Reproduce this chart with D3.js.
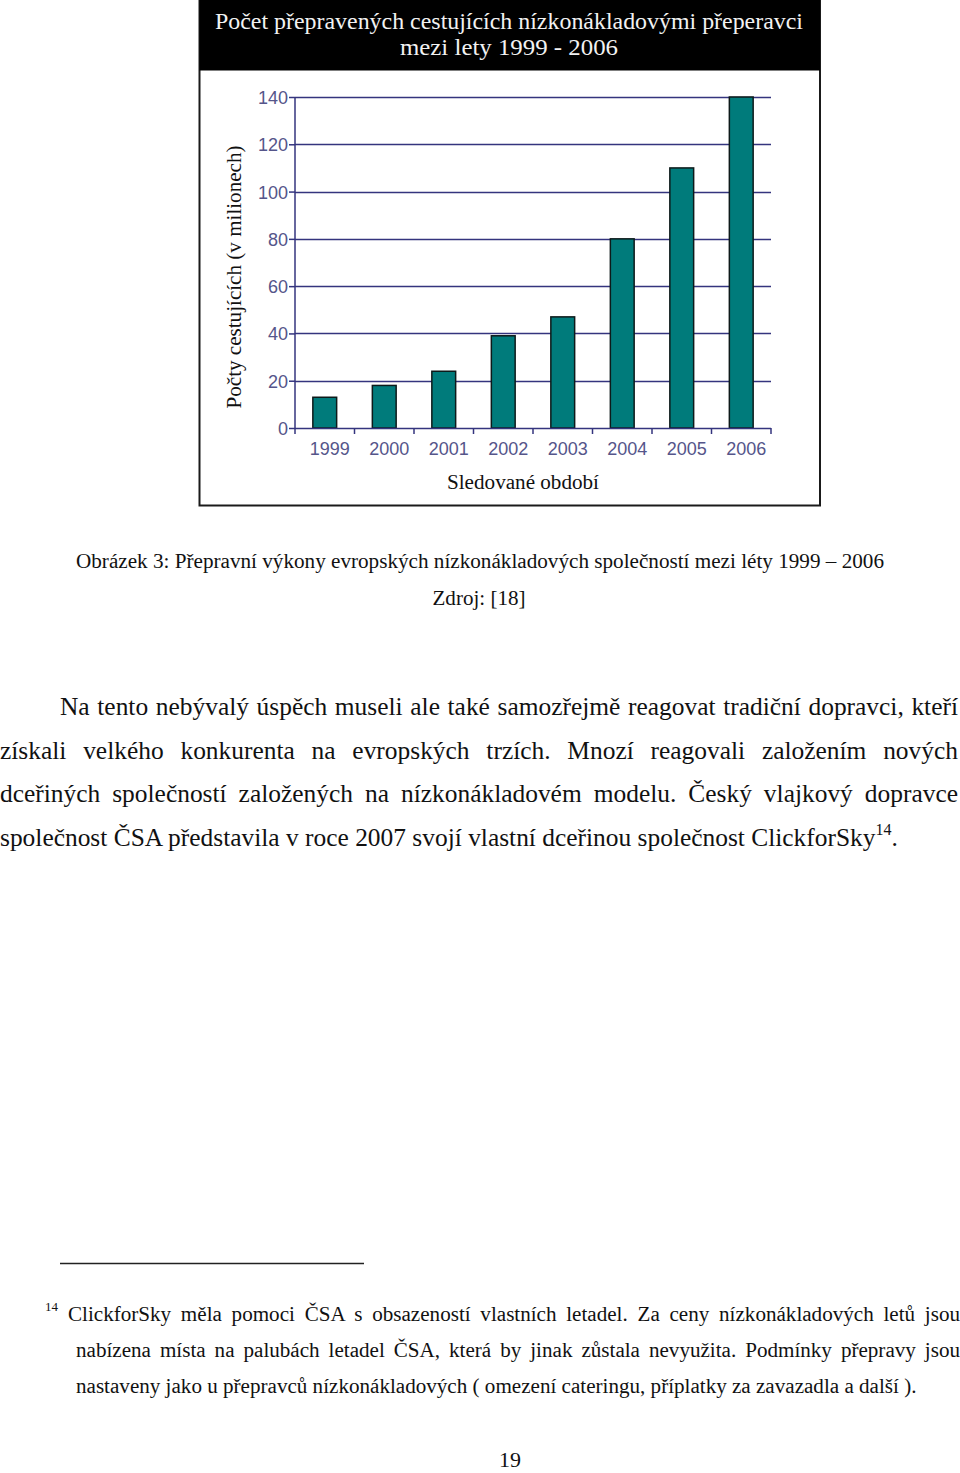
<!DOCTYPE html>
<html>
<head>
<meta charset="utf-8">
<script src="https://cdn.jsdelivr.net/npm/d3@7"></script>
<style>
  html, body { margin: 0; padding: 0; background: #fff; }
  svg { display: block; }
</style>
</head>
<body>
<script>
// ---- data ----
const years = ["1999", "2000", "2001", "2002", "2003", "2004", "2005", "2006"];
const passengers = [13, 18, 24, 39, 47, 80, 110, 140];
const yTicks = [0, 20, 40, 60, 80, 100, 120, 140];
const chartTitle = ["Počet přepravených cestujících nízkonákladovými přeperavci", "mezi lety 1999 - 2006"];
const yTitle = "Počty cestujících (v milionech)";
const xTitle = "Sledované období";
const caption = ["Obrázek 3: Přepravní výkony evropských nízkonákladových společností mezi léty 1999 – 2006", "Zdroj: [18]"];
const bodyLines = [
  "Na tento nebývalý úspěch museli ale také samozřejmě reagovat tradiční dopravci, kteří",
  "získali velkého konkurenta na evropských trzích. Mnozí reagovali založením nových",
  "dceřiných společností založených na nízkonákladovém modelu. Český vlajkový dopravce",
  "společnost ČSA představila v roce 2007 svojí vlastní dceřinou společnost ClickforSky"
];
const footLines = [
  "ClickforSky měla pomoci ČSA s obsazeností vlastních letadel. Za ceny nízkonákladových letů jsou",
  "nabízena místa na palubách letadel ČSA, která by jinak zůstala nevyužita. Podmínky přepravy jsou",
  "nastaveny jako u přepravců nízkonákladových ( omezení cateringu, příplatky za zavazadla a další )."
];

const W = 960, H = 1473;
const serif = "'Liberation Serif', 'Times New Roman', serif";
const sans = "'Liberation Sans', Arial, sans-serif";

const svg = d3.select("body").append("svg").attr("width", W).attr("height", H);

// ---- chart frame ----
const box = { x: 199.5, y: 0.5, w: 620.5, h: 505 };
svg.append("rect").attr("x", box.x).attr("y", box.y).attr("width", box.w).attr("height", box.h)
  .attr("fill", "#fff").attr("stroke", "#1a1a1a").attr("stroke-width", 2);
svg.append("rect").attr("x", box.x).attr("y", 0).attr("width", box.w).attr("height", 70.5).attr("fill", "#000");

chartTitle.forEach((t, i) => {
  svg.append("text").attr("x", 509).attr("y", 29 + i * 26)
    .attr("text-anchor", "middle").attr("fill", "#f2f2f2")
    .style("font-family", serif).style("font-size", "23px")
    .attr("textLength", i === 0 ? 588 : 218).attr("lengthAdjust", "spacingAndGlyphs")
    .text(t);
});

// ---- plot ----
const plot = { left: 295, right: 771, top: 97, bottom: 428 };
const x = d3.scaleBand().domain(years).range([plot.left, plot.right]).paddingInner(0.6).paddingOuter(0.3);
const y = d3.scaleLinear().domain([0, 140]).range([plot.bottom, plot.top]);
const axisColor = "#34347e";
const labelColor = "#55558a";

const g = svg.append("g");

// gridlines
g.selectAll("line.grid").data(yTicks.filter(d => d > 0)).join("line")
  .attr("class", "grid")
  .attr("x1", plot.left).attr("x2", plot.right)
  .attr("y1", d => Math.round(y(d)) + 0.5).attr("y2", d => Math.round(y(d)) + 0.5)
  .attr("stroke", axisColor).attr("stroke-width", 1.5);

// bars
g.selectAll("rect.bar").data(passengers).join("rect")
  .attr("class", "bar")
  .attr("x", (d, i) => x(years[i]))
  .attr("y", d => y(d))
  .attr("width", x.bandwidth())
  .attr("height", d => y(0) - y(d))
  .attr("fill", "#007b7b").attr("stroke", "#0d1a1a").attr("stroke-width", 1.5);

// y axis
const yAxis = d3.axisLeft(y).tickValues(yTicks).tickSize(6).tickPadding(1).tickFormat(d3.format("d"));
const gy = svg.append("g").attr("transform", `translate(${plot.left},0)`).call(yAxis);
gy.select(".domain").attr("stroke", axisColor).attr("stroke-width", 1.5).attr("d", `M0,${plot.top}V${plot.bottom}`);
gy.selectAll(".tick line").attr("stroke", axisColor).attr("stroke-width", 1.5);
gy.selectAll(".tick text").attr("fill", labelColor).style("font-family", sans).style("font-size", "18px").attr("dy", "0.36em");

// x axis with ticks at category boundaries
const boundaries = d3.range(years.length + 1).map(i => plot.left + i * x.step());
const gx = svg.append("g").attr("transform", `translate(0,${plot.bottom})`);
gx.append("line").attr("x1", plot.left).attr("x2", plot.right).attr("y1", 0.5).attr("y2", 0.5)
  .attr("stroke", axisColor).attr("stroke-width", 1.5);
gx.selectAll("line.tk").data(boundaries).join("line").attr("class", "tk")
  .attr("x1", d => d).attr("x2", d => d).attr("y1", 0).attr("y2", 6)
  .attr("stroke", axisColor).attr("stroke-width", 1.5);
gx.selectAll("text").data(years).join("text")
  .attr("x", d => x(d) + x.bandwidth() / 2 + 5)
  .attr("y", 27)
  .attr("text-anchor", "middle").attr("fill", labelColor)
  .style("font-family", sans).style("font-size", "18px")
  .text(d => d);

// axis titles
svg.append("text").attr("transform", "translate(241,277) rotate(-90)")
  .attr("text-anchor", "middle").attr("fill", "#111")
  .style("font-family", serif).style("font-size", "20px")
  .attr("textLength", 263).attr("lengthAdjust", "spacingAndGlyphs")
  .text(yTitle);
svg.append("text").attr("x", 523).attr("y", 489).attr("text-anchor", "middle").attr("fill", "#111")
  .style("font-family", serif).style("font-size", "20px")
  .attr("textLength", 152).attr("lengthAdjust", "spacingAndGlyphs")
  .text(xTitle);

// ---- page text ----
function justify(sel, width) {
  const node = sel.node();
  const len = node.getComputedTextLength();
  const spaces = (node.textContent.match(/ /g) || []).length;
  if (spaces > 0) sel.attr("word-spacing", (width - len) / spaces);
}
// font size so that a reference line reaches its measured width
function fitSize(t, width, base) {
  const tmp = svg.append("text").style("font-family", serif).style("font-size", base + "px").text(t);
  const len = tmp.node().getComputedTextLength();
  tmp.remove();
  return base * width / len;
}
const ink = "#111";

svg.append("text").attr("x", 480).attr("y", 568).attr("text-anchor", "middle").attr("fill", ink)
  .style("font-family", serif).style("font-size", "20px")
  .attr("textLength", 808).attr("lengthAdjust", "spacingAndGlyphs")
  .text(caption[0]);
svg.append("text").attr("x", 479).attr("y", 605).attr("text-anchor", "middle").attr("fill", ink)
  .style("font-family", serif).style("font-size", "20px")
  .attr("textLength", 93).attr("lengthAdjust", "spacingAndGlyphs")
  .text(caption[1]);

const bodySize = fitSize(bodyLines[3], 876, 24);
const bodyX = [60, 0, 0, 0];
bodyLines.forEach((t, i) => {
  const s = svg.append("text").attr("x", bodyX[i]).attr("y", 715 + i * 43.7).attr("fill", ink)
    .style("font-family", serif).style("font-size", bodySize + "px").text(t);
  if (i < 3) justify(s, 958 - bodyX[i]);
  else {
    s.append("tspan").attr("dy", -11).style("font-size", "16px").text("14");
    s.append("tspan").attr("dy", 11).text(".");
  }
});

// footnote separator
svg.append("line").attr("x1", 60).attr("x2", 364).attr("y1", 1263.5).attr("y2", 1263.5)
  .attr("stroke", "#222").attr("stroke-width", 1.5);

svg.append("text").attr("x", 45).attr("y", 1311).attr("fill", ink)
  .style("font-family", serif).style("font-size", "13px").text("14");
const footSize = fitSize(footLines[2], 841, 20);
const footX = [68, 76, 76];
footLines.forEach((t, i) => {
  const s = svg.append("text").attr("x", footX[i]).attr("y", 1321 + i * 36).attr("fill", ink)
    .style("font-family", serif).style("font-size", footSize + "px").text(t);
  if (i < 2) justify(s, 960 - footX[i]);
});

svg.append("text").attr("x", 510).attr("y", 1467).attr("text-anchor", "middle").attr("fill", ink)
  .style("font-family", serif).style("font-size", "22px").text("19");
</script>
</body>
</html>
